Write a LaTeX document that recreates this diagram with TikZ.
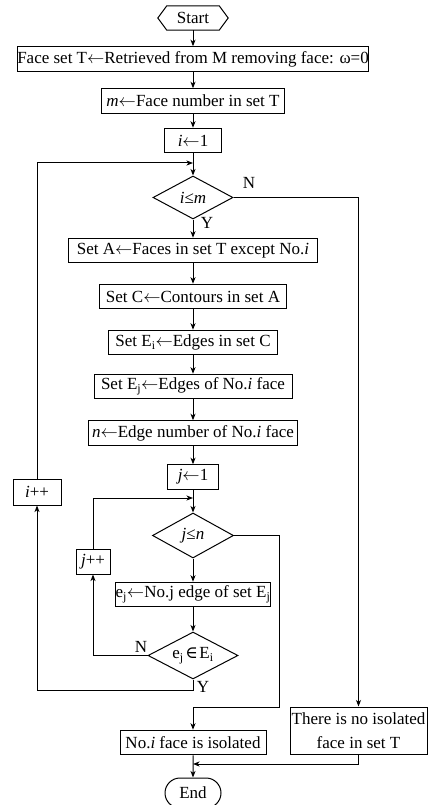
\documentclass[tikz,border=0pt]{standalone}
\usepackage{fontspec}
\setmainfont{Liberation Serif}
\newfontfamily\symfont{DejaVu Serif}
\usetikzlibrary{arrows.meta,shapes.geometric,shapes.misc}
% assignment arrow used inside the boxes
\newcommand{\assign}{\ensuremath{\leftarrow}}
\begin{document}
\begin{tikzpicture}[x=1pt,y=-1pt,
  every node/.style={font=\fontsize{17}{24}\selectfont, inner sep=0pt},
  stepbox/.style={draw, line width=1pt, minimum height=24.5},
  decision/.style={draw, diamond, line width=1pt, aspect=2},
  line/.style={line width=1pt},
  arr/.style={line width=1pt, -{Stealth[length=6.5pt,width=5pt,inset=1.8pt]}}]
\useasboundingbox (0,0) rectangle (428,805);

% main column
\node[minimum width=70, minimum height=24] (start) at (193,18) {Start};
\draw[line] (start.west) -- ([xshift=9pt]start.north west) -- ([xshift=-9pt]start.north east)
  -- (start.east) -- ([xshift=-9pt]start.south east) -- ([xshift=9pt]start.south west) -- cycle;
\node[stepbox, minimum width=351] (b1) at (193,59) {Face set T\assign Retrieved from M removing face: ω=0};
\node[stepbox, minimum width=183] (b2) at (193,101) {\textit{m}\assign Face number in set T};
\node[stepbox, minimum width=57] (b3) at (193,140.5) {\textit{i}\assign 1};
\node[decision, minimum width=80, minimum height=43] (d1) at (193,197.5) {\textit{i}≤\textit{m}};
\node[stepbox, minimum width=249] (b4) at (193,250.5) {Set A\assign Faces in set T except No.\textit{i}};
\node[stepbox, minimum width=187] (b5) at (193,296.5) {Set C\assign Contours in set A};
\node[stepbox, minimum width=169] (b6) at (193,342.5) {Set E\textsubscript{i}\assign Edges in set C};
\node[stepbox, minimum width=198] (b7) at (193,386.5) {Set E\textsubscript{j}\assign Edges of No.\textit{i} face};
\node[stepbox, minimum width=209] (b8) at (193,433) {\textit{n}\assign Edge number of No.\textit{i} face};
\node[stepbox, minimum width=51] (b9) at (193,477) {\textit{j}\assign 1};
\node[decision, minimum width=81, minimum height=45] (d2) at (193,535.5) {\textit{j}≤\textit{n}};
\node[stepbox, minimum width=154] (b10) at (193,594.5) {e\textsubscript{j}\assign No.j edge of set E\textsubscript{j}};
\node[decision, minimum width=90, minimum height=47] (d3) at (193,655.5) {e\textsubscript{j}\kern1.5pt{\symfont ∈}\kern1.5pt E\textsubscript{i}};
\node[stepbox, minimum width=146] (iso) at (193,742.5) {No.\textit{i} face is isolated};
\node[draw, rounded rectangle, line width=1pt, minimum width=56, minimum height=30] (end) at (193,793) {End};

% side boxes
\node[stepbox, minimum width=137, minimum height=47, align=center] (none) at (358.5,730.5) {There is no isolated\\face in set T};
\node[stepbox, minimum width=48, minimum height=26] (iinc) at (37,492) {\textit{i}++};
\node[stepbox, minimum width=34, minimum height=25] (jinc) at (93,561.5) {\textit{j}++};

% junction points
\coordinate (m1) at (193,163);
\coordinate (m2) at (193,498);
\coordinate (m3) at (193,707);
\coordinate (r2) at (279,707);
\coordinate (y3) at (193,690);
\coordinate (m4) at (193,764);

% connectors
\draw[arr] (start.south) -- (b1.north);
\draw[arr] (b1) -- (b2);
\draw[arr] (b2) -- (b3);
\draw[arr] (b3) -- (d1);
\draw[arr] (iinc.north) |- (m1);
\draw[arr] (d1.east) -| (none.north);
\draw[arr] (d1) -- (b4);
\draw[arr] (b4) -- (b5);
\draw[arr] (b5) -- (b6);
\draw[arr] (b6) -- (b7);
\draw[arr] (b7) -- (b8);
\draw[arr] (b8) -- (b9);
\draw[arr] (b9) -- (d2);
\draw[arr] (jinc.north) |- (m2);
\draw[arr] (d2) -- (b10);
\draw[arr] (d2.east) -| (r2) -- (m3) -- (iso.north);
\draw[arr] (b10) -- (d3);
\draw[arr] (d3.west) -| (jinc.south);
\draw[arr] (d3.south) -- (y3) -| (iinc.south);
\draw[arr] (iso) -- (end);
\draw[arr] (none.south) |- (m4);

% branch labels
\node at (249,183) {N};
\node at (207,223) {Y};
\node at (141,647) {N};
\node at (203,687) {Y};
\end{tikzpicture}
\end{document}
